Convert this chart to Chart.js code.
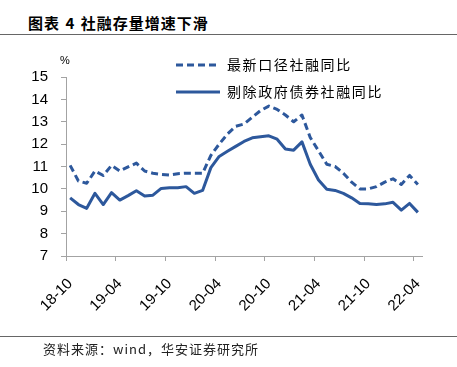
<!DOCTYPE html>
<html lang="zh-CN">
<head>
<meta charset="utf-8">
<title>社融存量增速下滑</title>
<script src="https://cdn.jsdelivr.net/npm/chart.js@4.4.1/dist/chart.umd.min.js"></script>
<style>
  html, body { margin: 0; padding: 0; background: #fff; }
  #wrap { position: relative; width: 457px; height: 367px; overflow: hidden; }
  #chart { position: absolute; left: 0; top: 0; }
  .title { position: absolute; left: 28px; top: 12px; font: bold 15px "Noto Sans CJK SC"; letter-spacing: 1px; word-spacing: 1px; line-height: 22px; color: #000; white-space: nowrap; }
  .rule { position: absolute; left: 0; width: 457px; height: 1px; background: #666; }
  .source { position: absolute; left: 43px; top: 341px; font: 13px "Noto Sans CJK SC"; letter-spacing: 1px; line-height: 16px; color: #222; white-space: nowrap; }
</style>
</head>
<body>
<div id="wrap">
  <div class="title">图表 4 社融存量增速下滑</div>
  <div class="rule" style="top:34px"></div>
  <canvas id="chart" width="457" height="367"></canvas>
  <div class="rule" style="top:336px"></div>
  <div class="source">资料来源：wind，华安证券研究所</div>
</div>

<script>
// --- DỮ LIỆU ---
const months = [
  '18-10','18-11','18-12',
  '19-01','19-02','19-03','19-04','19-05','19-06','19-07','19-08','19-09','19-10','19-11','19-12',
  '20-01','20-02','20-03','20-04','20-05','20-06','20-07','20-08','20-09','20-10','20-11','20-12',
  '21-01','21-02','21-03','21-04','21-05','21-06','21-07','21-08','21-09','21-10','21-11','21-12',
  '22-01','22-02','22-03','22-04'
];
const xTickLabels = ['18-10','19-04','19-10','20-04','20-10','21-04','21-10','22-04'];

// 最新口径社融同比 (%)
const tsfGrowth = [
  11.05, 10.35, 10.25,
  10.8, 10.6, 11.05, 10.8, 10.98, 11.15, 10.8, 10.7, 10.65, 10.62, 10.68, 10.7,
  10.7, 10.7, 11.5, 12.0, 12.45, 12.8, 12.9, 13.2, 13.5, 13.7, 13.55, 13.3,
  13.0, 13.3, 12.3, 11.7, 11.1, 11.0, 10.7, 10.3, 10.0, 10.0, 10.1, 10.3,
  10.45, 10.2, 10.6, 10.2
];
// 剔除政府债券社融同比 (%)
const tsfExGovGrowth = [
  9.6, 9.3, 9.13,
  9.8, 9.3, 9.83, 9.5, 9.7, 9.92, 9.68, 9.72, 10.02, 10.05, 10.05, 10.1,
  9.8, 9.93, 10.95, 11.45, 11.68, 11.9, 12.12, 12.28, 12.33, 12.37, 12.22, 11.78,
  11.73, 12.1, 11.1, 10.4, 9.98, 9.93, 9.8, 9.6, 9.35, 9.33, 9.3, 9.33,
  9.4, 9.05, 9.35, 8.95
];
const yMin = 7, yMax = 15, yStep = 1;

// --- STYLE ---
const BLUE = '#2d589c';
const AXIS = '#a3a3a3';

// legend tự vẽ ở góc trên bên phải + đơn vị %
const cornerLegend = {
  id: 'cornerLegend',
  afterDraw(chart) {
    const ctx = chart.ctx;
    const rows = [65, 92];
    chart.data.datasets.forEach((ds, i) => {
      const y = rows[i];
      ctx.save();
      ctx.strokeStyle = ds.borderColor;
      ctx.lineWidth = ds.borderWidth;
      ctx.setLineDash(ds.borderDash || []);
      ctx.beginPath();
      ctx.moveTo(176, y);
      ctx.lineTo(220, y);
      ctx.stroke();
      ctx.setLineDash([]);
      ctx.fillStyle = '#000';
      ctx.font = '14px "Noto Sans CJK SC"';
      ctx.textBaseline = 'middle';
      ctx.letterSpacing = '1.6px';
      ctx.fillText(ds.label, 227, y);
      ctx.restore();
    });
    ctx.save();
    ctx.fillStyle = '#000';
    ctx.font = '11px "Liberation Sans"';
    ctx.textAlign = 'center';
    ctx.textBaseline = 'middle';
    ctx.fillText('%', chart.chartArea.left - 1, 61);
    ctx.restore();
  }
};

new Chart(document.getElementById('chart'), {
  type: 'line',
  data: {
    labels: months,
    datasets: [
      { label: '最新口径社融同比', data: tsfGrowth, borderColor: BLUE, borderWidth: 3,
        borderDash: [7, 4], pointRadius: 0, tension: 0, fill: false, borderJoinStyle: 'round' },
      { label: '剔除政府债券社融同比', data: tsfExGovGrowth, borderColor: BLUE, borderWidth: 3,
        pointRadius: 0, tension: 0, fill: false, borderJoinStyle: 'round' }
    ]
  },
  options: {
    responsive: false,
    animation: false,
    layout: { padding: { left: 26, right: 35, top: 77, bottom: 31 } },
    plugins: { legend: { display: false }, tooltip: { enabled: false } },
    scales: {
      x: {
        type: 'category',
        offset: true,
        grid: {
          display: true, drawOnChartArea: false, drawTicks: true, tickLength: 5, offset: true,
          tickColor: (c) => (c.index !== undefined && xTickLabels.includes(months[c.index])) ? AXIS : 'rgba(0,0,0,0)'
        },
        border: { display: true, color: AXIS, width: 1 },
        ticks: {
          autoSkip: false, maxRotation: 45, minRotation: 45, padding: 14, color: '#000',
          font: { family: 'Liberation Sans', size: 15 },
          callback: (v, i) => xTickLabels.includes(months[i]) ? months[i] : ''
        },
        afterFit: (s) => { s.height = 80; }
      },
      y: {
        min: yMin, max: yMax,
        grid: { display: true, drawOnChartArea: false, drawTicks: true, tickLength: 5, tickColor: AXIS },
        border: { display: true, color: AXIS, width: 1 },
        ticks: { stepSize: yStep, padding: 13, color: '#000', font: { family: 'Liberation Sans', size: 15 } },
        afterFit: (s) => { s.width = 40; }
      }
    }
  },
  plugins: [cornerLegend]
});
</script>
</body>
</html>
